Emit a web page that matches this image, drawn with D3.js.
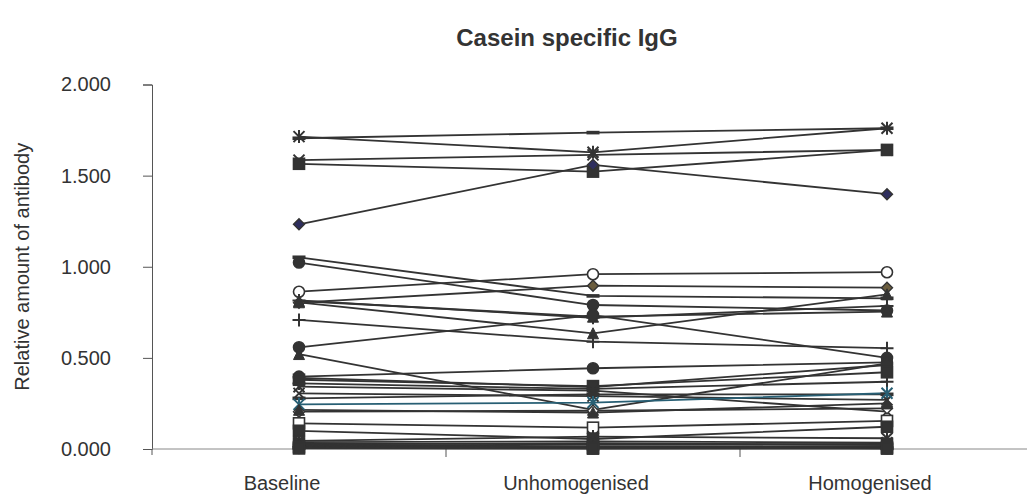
<!DOCTYPE html>
<html>
<head>
<meta charset="utf-8">
<script src="https://cdn.jsdelivr.net/npm/d3@7"></script>
<style>
  body { margin: 0; background: #fff; }
  svg { display: block; font-family: "Liberation Sans", Arial, sans-serif; }
</style>
</head>
<body>
<div id="container"></div>
<script>
const categories = ["Baseline", "Unhomogenised", "Homogenised"];
const yTicks = [0, 0.5, 1, 1.5, 2];

// one entry per subject
const baseline = [1.714, 1.705, 1.585, 1.565, 1.233, 1.052, 1.023, 0.863, 0.803, 0.812,
  0.805, 0.815, 0.708, 0.558, 0.521, 0.397, 0.390, 0.380, 0.342, 0.360,
  0.305, 0.278, 0.245, 0.205, 0.215, 0.141, 0.100, 0.045, 0.038, 0.030,
  0.025, 0.020, 0.015, 0.010, 0.006, 0.008, 0.003];
const unhomogenised = [1.628, 1.736, 1.614, 1.522, 1.559, 0.840, 0.790, 0.959, 0.896, 0.726,
  0.635, 0.720, 0.589, 0.735, 0.215, 0.443, 0.340, 0.345, 0.320, 0.330,
  0.290, 0.300, 0.255, 0.210, 0.200, 0.117, 0.055, 0.068, 0.042, 0.025,
  0.032, 0.015, 0.010, 0.006, 0.004, 0.012, 0.002];
const homogenised = [1.760, 1.760, 1.641, 1.641, 1.398, 0.827, 0.760, 0.970, 0.885, 0.754,
  0.849, 0.785, 0.553, 0.500, 0.470, 0.475, 0.461, 0.421, 0.205, 0.369,
  0.269, 0.300, 0.306, 0.223, 0.250, 0.154, 0.122, 0.059, 0.035, 0.028,
  0.022, 0.016, 0.012, 0.008, 0.005, 0.004, 0.002];
const markers = ["star", "dash", "x", "square", "diamond", "dash", "circle", "circleOpen", "diamond", "triangle",
  "triangle", "plus", "plus", "circle", "triangle", "circle", "circle", "square", "x", "plus",
  "x", "dash", "star", "diamondOpen", "triangle", "squareOpen", "square", "star", "x", "square",
  "circle", "triangle", "diamond", "square", "circle", "dash", "square"];
const specialColors = { 4: "#2e2e5e", 8: "#6b5d3e", 22: "#285f74" };

const width = 1027, height = 497;
const margin = { left: 152, top: 84.5, bottom: 48 };

const svg = d3.select("#container").append("svg")
  .attr("width", width).attr("height", height);

const x = d3.scaleBand().domain(categories).range([margin.left, 1034]);
const y = d3.scaleLinear().domain([0, 2]).range([height - margin.bottom, margin.top]);
const cx = c => x(c) + x.bandwidth() / 2;

// title
svg.append("text")
  .attr("x", 567).attr("y", 46)
  .attr("text-anchor", "middle")
  .attr("font-size", 24).attr("font-weight", "bold").attr("fill", "#333")
  .text("Casein specific IgG");

// y axis
const yAxis = svg.append("g")
  .attr("transform", `translate(${margin.left},0)`)
  .call(d3.axisLeft(y).tickValues(yTicks).tickFormat(d3.format(".3f")).tickSize(9).tickPadding(32));
yAxis.select(".domain").attr("stroke", "#555");
yAxis.selectAll(".tick line").attr("stroke", "#555");
yAxis.selectAll("text").attr("font-size", 20).attr("fill", "#333").attr("font-family", "inherit");

svg.append("text")
  .attr("transform", `translate(29,${(y(0) + y(2)) / 2}) rotate(-90)`)
  .attr("text-anchor", "middle")
  .attr("font-size", 20).attr("fill", "#333")
  .text("Relative amount of antibody");

// x axis: ticks at category boundaries
const xg = svg.append("g").attr("transform", `translate(0,${y(0)})`);
xg.append("line").attr("x1", margin.left).attr("x2", 1034)
  .attr("stroke", "#888");
const bounds = categories.map(c => x(c)).concat([x.range()[1]]);
xg.selectAll(".xt").data(bounds.slice(1)).join("line")
  .attr("x1", d => d).attr("x2", d => d).attr("y1", 0).attr("y2", 8)
  .attr("stroke", "#555");
xg.append("line").attr("x1", margin.left).attr("x2", margin.left)
  .attr("y1", 0).attr("y2", 6).attr("stroke", "#555");
xg.selectAll(".xl").data(categories).join("text")
  .attr("x", d => cx(d) - 17).attr("y", 41)
  .attr("text-anchor", "middle")
  .attr("font-size", 20).attr("fill", "#333")
  .text(d => d);

// series
const series = baseline.map((b, i) => ({
  values: [b, unhomogenised[i], homogenised[i]],
  marker: markers[i],
  color: specialColors[i] || "#333"
}));

const line = d3.line()
  .x((d, j) => cx(categories[j]))
  .y(d => y(d));

const plot = svg.append("g");
plot.selectAll(".series").data(series).join("path")
  .attr("d", s => line(s.values))
  .attr("fill", "none")
  .attr("stroke", s => s.marker === "star" && s.color !== "#333" ? s.color : "#333")
  .attr("stroke-width", 1.8);

function drawMarker(g, type, color) {
  const r = 5.5;
  if (type === "circle" || type === "circleOpen") {
    g.append("circle").attr("r", r)
      .attr("fill", type === "circle" ? "#333" : "#fff")
      .attr("stroke", "#333").attr("stroke-width", 1.6);
  } else if (type === "square" || type === "squareOpen") {
    g.append("rect").attr("x", -r).attr("y", -r).attr("width", 2 * r).attr("height", 2 * r)
      .attr("fill", type === "square" ? "#333" : "#fff")
      .attr("stroke", "#333").attr("stroke-width", 1.6);
  } else if (type === "diamond" || type === "diamondOpen") {
    g.append("path").attr("d", `M0,${-r}L${r},0L0,${r}L${-r},0Z`)
      .attr("fill", type === "diamond" ? color : "#fff")
      .attr("stroke", "#333").attr("stroke-width", 1.4);
  } else if (type === "triangle") {
    g.append("path").attr("d", `M0,${-r}L${r},${r}L${-r},${r}Z`)
      .attr("fill", "#333").attr("stroke", "#333").attr("stroke-width", 1);
  } else if (type === "dash") {
    g.append("rect").attr("x", -r - 1).attr("y", -1.8).attr("width", 2 * r + 2).attr("height", 3.6)
      .attr("fill", "#333");
  } else {
    const p = d3.path();
    if (type === "x" || type === "star") {
      p.moveTo(-r, -r); p.lineTo(r, r);
      p.moveTo(-r, r); p.lineTo(r, -r);
    }
    if (type === "star" || type === "plus") {
      p.moveTo(0, -r - 1); p.lineTo(0, r + 1);
    }
    if (type === "plus") {
      p.moveTo(-r - 1, 0); p.lineTo(r + 1, 0);
    }
    g.append("path").attr("d", p.toString())
      .attr("fill", "none").attr("stroke", color).attr("stroke-width", 2);
  }
}

series.forEach(s => {
  s.values.forEach((v, j) => {
    const g = plot.append("g")
      .attr("transform", `translate(${cx(categories[j])},${y(v)})`);
    drawMarker(g, s.marker, s.color);
  });
});
</script>
</body>
</html>
